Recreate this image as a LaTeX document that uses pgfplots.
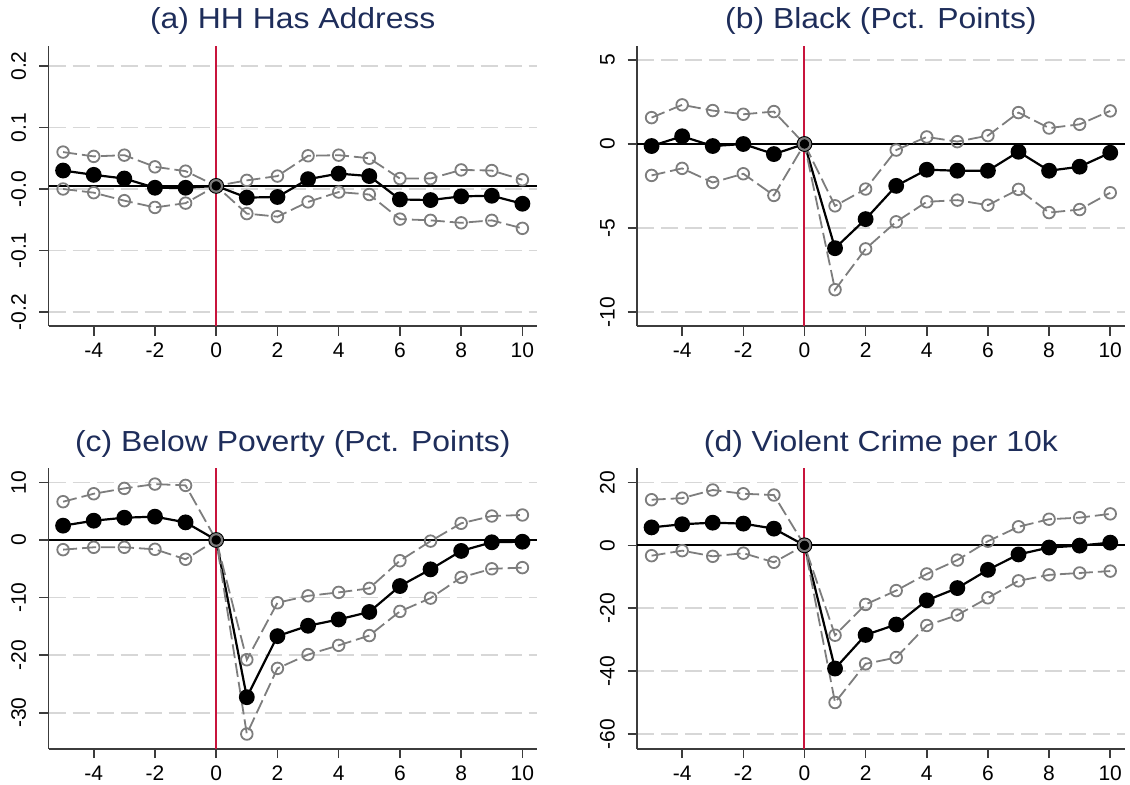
\documentclass[border=0pt]{standalone}
\usepackage{fontspec}
\setmainfont{Liberation Sans}
\newfontfamily\titlefont[FakeStretch=1.1]{Liberation Sans}
\usepackage{pgfplots}
\usepackage{pgfplotstable}
\pgfplotsset{compat=1.18}

\definecolor{titlenavy}{RGB}{30,45,90}
\definecolor{zeroline}{RGB}{200,20,60}
\definecolor{cigray}{RGB}{125,125,125}
\definecolor{gridgray}{RGB}{215,215,215}
\definecolor{axisgray}{RGB}{60,60,60}

% x  b  hi  lo
\pgfplotstableread{
x b hi lo
-5 0.030 0.060 0.000
-4 0.023 0.053 -0.006
-3 0.017 0.055 -0.019
-2 0.002 0.036 -0.030
-1 0.002 0.029 -0.023
0 0.005 0.005 0.005
1 -0.014 0.014 -0.040
2 -0.013 0.021 -0.045
3 0.016 0.054 -0.021
4 0.025 0.055 -0.005
5 0.021 0.050 -0.009
6 -0.017 0.017 -0.049
7 -0.018 0.017 -0.051
8 -0.012 0.031 -0.055
9 -0.011 0.030 -0.051
10 -0.024 0.015 -0.064
}\addresstab

\pgfplotstableread{
x b hi lo
-5 -0.12 1.57 -1.87
-4 0.46 2.33 -1.45
-3 -0.12 1.99 -2.29
-2 0.00 1.77 -1.77
-1 -0.60 1.93 -3.06
0 0 0 0
1 -6.20 -3.68 -8.67
2 -4.47 -2.68 -6.24
3 -2.49 -0.36 -4.63
4 -1.53 0.42 -3.44
5 -1.59 0.14 -3.34
6 -1.59 0.50 -3.64
7 -0.46 1.87 -2.70
8 -1.59 0.95 -4.08
9 -1.35 1.17 -3.90
10 -0.52 1.97 -2.90
}\blacktab

\pgfplotstableread{
x b hi lo
-5 2.49 6.65 -1.68
-4 3.35 8.03 -1.27
-3 3.87 8.96 -1.27
-2 4.05 9.71 -1.62
-1 3.06 9.48 -3.35
0 0 0 0
1 -27.3 -20.8 -33.7
2 -16.7 -10.9 -22.3
3 -14.9 -9.7 -19.9
4 -13.8 -9.1 -18.3
5 -12.5 -8.4 -16.6
6 -8.0 -3.6 -12.4
7 -5.1 -0.2 -10.1
8 -1.9 2.9 -6.5
9 -0.4 4.16 -5.0
10 -0.3 4.34 -4.8
}\povertytab

\pgfplotstableread{
x b hi lo
-5 5.7 14.5 -3.3
-4 6.7 15.0 -1.7
-3 7.2 17.6 -3.5
-2 6.9 16.4 -2.5
-1 5.3 16.0 -5.4
0 0 0 0
1 -39.2 -28.6 -50.0
2 -28.5 -18.8 -37.7
3 -25.2 -14.4 -35.7
4 -17.5 -9.1 -25.5
5 -13.6 -4.7 -22.2
6 -7.8 1.3 -16.7
7 -2.9 5.9 -11.3
8 -0.7 8.3 -9.4
9 -0.1 8.8 -8.8
10 0.85 10.0 -8.2
}\crimetab

\pgfplotsset{
  panel/.style={
    scale only axis,
    anchor=south west,
    xmin=-5.47, xmax=10.47,
    axis lines*=left,
    axis line style={axisgray, line width=0.8pt, -},
    tick align=outside,
    major tick length=4.75pt,
    tick style={axisgray, line width=0.8pt},
    xtick={-4,-2,0,2,4,6,8,10},
    xticklabels={-4,-2,0,2,4,6,8,10},
    minor tick num=0,
    ymajorgrids,
    major grid style={gridgray, line width=0.8pt, dash pattern=on 8.5pt off 3.5pt},
    tick label style={font=\fontsize{10.5}{12}\selectfont, black},
    xticklabel style={anchor=north, inner sep=0pt},
    yticklabel style={rotate=90, anchor=south, inner sep=0pt},
    xticklabel shift=3.6pt,
    yticklabel shift=6.3pt,
    title style={font=\titlefont\fontsize{14.5}{16}\selectfont, text=titlenavy,
      anchor=base, at={(0.5,1)}, yshift=2.5pt, inner sep=0pt},
    clip=false,
  },
  estline/.style={black, line width=1.1pt, mark=*, mark size=3.4pt,
    mark options={fill=black, solid}},
  ciline/.style={cigray, line width=0.9pt, dash pattern=on 7pt off 2.5pt,
    mark=o, mark size=2.9pt, mark options={solid, line width=0.9pt}},
  baseline/.style={black, line width=1pt, no marks},
  redline/.style={zeroline, line width=1pt, no marks},
}

\begin{document}
\begin{tikzpicture}
\path[use as bounding box] (0,0) rectangle (565pt,392pt);

% (a)
\begin{axis}[panel, at={(24.35pt,229pt)}, width=244.05pt, height=140.15pt,
  ymin=-0.2228, ymax=0.233,
  ytick={-0.2,-0.1,0,0.1,0.2}, yticklabels={-0.2,-0.1,-0.0,0.1,0.2},
  title={(a) HH Has Address}]
\addplot[baseline] coordinates {(-5.47,0.005) (10.47,0.005)};
\addplot[redline] coordinates {(0,-0.2228) (0,0.233)};
\addplot[estline] table[x=x,y=b] {\addresstab};
\addplot[ciline] table[x=x,y=hi] {\addresstab};
\addplot[ciline] table[x=x,y=lo] {\addresstab};
\end{axis}

% (b)
\begin{axis}[panel, at={(318.6pt,229pt)}, width=243.7pt, height=140.15pt,
  ymin=-10.83, ymax=5.85,
  ytick={-10,-5,0,5}, yticklabels={-10,-5,0,5},
  title={(b) Black (Pct. Points)}]
\addplot[baseline] coordinates {(-5.47,0) (10.47,0)};
\addplot[redline] coordinates {(0,-10.83) (0,5.85)};
\addplot[estline] table[x=x,y=b] {\blacktab};
\addplot[ciline] table[x=x,y=hi] {\blacktab};
\addplot[ciline] table[x=x,y=lo] {\blacktab};
\end{axis}

% (c)
\begin{axis}[panel, at={(24.35pt,17.65pt)}, width=244.05pt, height=140.2pt,
  ymin=-36.25, ymax=12.45,
  ytick={-30,-20,-10,0,10}, yticklabels={-30,-20,-10,0,10},
  title={(c) Below Poverty (Pct. Points)}]
\addplot[baseline] coordinates {(-5.47,0) (10.47,0)};
\addplot[redline] coordinates {(0,-36.25) (0,12.45)};
\addplot[estline] table[x=x,y=b] {\povertytab};
\addplot[ciline] table[x=x,y=hi] {\povertytab};
\addplot[ciline] table[x=x,y=lo] {\povertytab};
\end{axis}

% (d)
\begin{axis}[panel, at={(318.6pt,17.65pt)}, width=243.7pt, height=140.2pt,
  ymin=-64.7, ymax=24.5,
  ytick={-60,-40,-20,0,20}, yticklabels={-60,-40,-20,0,20},
  title={(d) Violent Crime per 10k}]
\addplot[baseline] coordinates {(-5.47,0) (10.47,0)};
\addplot[redline] coordinates {(0,-64.7) (0,24.5)};
\addplot[estline] table[x=x,y=b] {\crimetab};
\addplot[ciline] table[x=x,y=hi] {\crimetab};
\addplot[ciline] table[x=x,y=lo] {\crimetab};
\end{axis}
\end{tikzpicture}
\end{document}
